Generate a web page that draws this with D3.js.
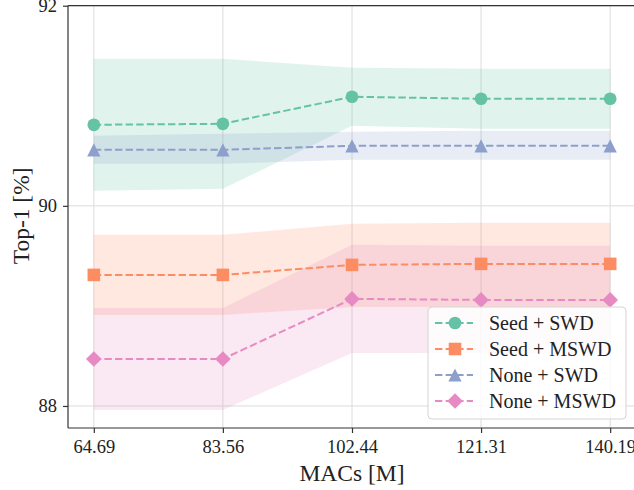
<!DOCTYPE html>
<html>
<head>
<meta charset="utf-8">
<title>Top-1 vs MACs</title>
<style>
  body { margin: 0; background: #fff; }
  svg { display: block; overflow: hidden; }
  text { font-family: 'Liberation Serif', 'DejaVu Serif', serif; fill: #222; }
</style>
<script src="https://d3js.org/d3.v7.min.js"></script>
</head>
<body>
<div id="chart"></div>
<script>
// ******* Data *******
const macs = [64.69, 83.56, 102.44, 121.31, 140.19];
const xTickLabels = ["64.69", "83.56", "102.44", "121.31", "140.19"];
const yTicks = [88, 90, 92];

const seriesNames = ["Seed + SWD", "Seed + MSWD", "None + SWD", "None + MSWD"];

const seedSwd      = [90.81, 90.82, 91.09, 91.07, 91.07];
const seedSwdLow   = [90.15, 90.17, 90.80, 90.77, 90.77];
const seedSwdHigh  = [91.47, 91.47, 91.38, 91.37, 91.37];

const seedMswd     = [89.31, 89.31, 89.41, 89.42, 89.42];
const seedMswdLow  = [88.91, 88.91, 88.99, 88.99, 88.99];
const seedMswdHigh = [89.71, 89.71, 89.82, 89.83, 89.83];

const noneSwd      = [90.56, 90.56, 90.60, 90.60, 90.60];
const noneSwdLow   = [90.42, 90.42, 90.46, 90.46, 90.46];
const noneSwdHigh  = [90.70, 90.72, 90.74, 90.75, 90.75];

const noneMswd     = [88.47, 88.47, 89.07, 89.06, 89.06];
const noneMswdLow  = [87.96, 87.96, 88.53, 88.53, 88.53];
const noneMswdHigh = [88.98, 88.98, 89.61, 89.60, 89.60];

// Set2 colours
const colors = ["#66c2a5", "#fc8d62", "#8da0cb", "#e78ac3"];

// matplotlib-like markers: o, s, ^, D
const mplTriangle = {
  draw(ctx, size) {
    const r = Math.sqrt(size) / 2;
    ctx.moveTo(0, -r);
    ctx.lineTo(r, r);
    ctx.lineTo(-r, r);
    ctx.closePath();
  }
};
const markerPaths = [
  d3.symbol().type(d3.symbolCircle).size(127)(),
  d3.symbol().type(d3.symbolSquare).size(158)(),
  d3.symbol().type(mplTriangle).size(175)(),
  d3.symbol().type(d3.symbolSquare).size(122)(),
];
const markerRotate = [0, 0, 0, 45];

const series = [
  { name: seriesNames[0], mean: seedSwd,  low: seedSwdLow,  high: seedSwdHigh },
  { name: seriesNames[1], mean: seedMswd, low: seedMswdLow, high: seedMswdHigh },
  { name: seriesNames[2], mean: noneSwd,  low: noneSwdLow,  high: noneSwdHigh },
  { name: seriesNames[3], mean: noneMswd, low: noneMswdLow, high: noneMswdHigh },
];

// ******* Layout *******
const width = 634, height = 490;
const margin = { top: 5.7, left: 68, bottom: 62, right: -2 };
const plotW = width - margin.left - margin.right;
const plotH = height - margin.top - margin.bottom;

const xPad = (macs[macs.length - 1] - macs[0]) * 0.05;
const x = d3.scaleLinear()
    .domain([macs[0] - xPad, macs[macs.length - 1] + xPad])
    .range([0, plotW]);
const y = d3.scaleLinear()
    .domain([87.78, 92])
    .range([plotH, 0]);

const svg = d3.select("#chart").append("svg")
    .attr("width", width)
    .attr("height", height);

const g = svg.append("g")
    .attr("transform", `translate(${margin.left},${margin.top})`);

// ******* Grid *******
g.append("g").selectAll("line")
  .data(macs).enter().append("line")
    .attr("x1", d => x(d)).attr("x2", d => x(d))
    .attr("y1", 0).attr("y2", plotH)
    .attr("stroke", "#dcdcdc").attr("stroke-width", 1);
g.append("g").selectAll("line")
  .data(yTicks).enter().append("line")
    .attr("x1", 0).attr("x2", plotW)
    .attr("y1", d => y(d)).attr("y2", d => y(d))
    .attr("stroke", "#dcdcdc").attr("stroke-width", 1);

// ******* Bands *******
const area = d3.area()
    .x((d, i) => x(macs[i]))
    .y0(d => y(d[0]))
    .y1(d => y(d[1]));

series.forEach((s, k) => {
  g.append("path")
    .attr("d", area(s.low.map((v, i) => [v, s.high[i]])))
    .attr("fill", colors[k])
    .attr("fill-opacity", 0.2);
});

// ******* Lines + markers *******
const line = d3.line()
    .x((d, i) => x(macs[i]))
    .y(d => y(d));

series.forEach((s, k) => {
  g.append("path")
    .attr("d", line(s.mean))
    .attr("fill", "none")
    .attr("stroke", colors[k])
    .attr("stroke-width", 2)
    .attr("stroke-dasharray", "7.4,3.2");

  g.append("g").selectAll("path")
    .data(s.mean).enter().append("path")
      .attr("d", markerPaths[k])
      .attr("fill", colors[k])
      .attr("transform", (d, i) => `translate(${x(macs[i])},${y(d)}) rotate(${markerRotate[k]})`);
});

// ******* Axes *******
const axisColor = "#333";
g.append("line").attr("x1", 0).attr("x2", 0).attr("y1", 0).attr("y2", plotH)
  .attr("stroke", axisColor).attr("stroke-width", 1.2);
g.append("line").attr("x1", 0).attr("x2", plotW).attr("y1", plotH).attr("y2", plotH)
  .attr("stroke", axisColor).attr("stroke-width", 1.2);
g.append("line").attr("x1", 0).attr("x2", plotW).attr("y1", 0).attr("y2", 0)
  .attr("stroke", axisColor).attr("stroke-width", 1.2);

const xAxis = g.append("g")
    .attr("transform", `translate(0,${plotH})`)
    .call(d3.axisBottom(x).tickValues(macs).tickSize(5).tickPadding(7)
      .tickFormat((d, i) => xTickLabels[i]));
const yAxis = g.append("g")
    .call(d3.axisLeft(y).tickValues(yTicks).tickSize(5).tickPadding(6)
      .tickFormat(d3.format("d")));

[xAxis, yAxis].forEach(a => {
  a.select(".domain").remove();
  a.selectAll(".tick line").attr("stroke", axisColor).attr("stroke-width", 1.2);
  a.selectAll(".tick text")
    .style("font-family", "'Liberation Serif', serif")
    .style("font-size", "18.5px")
    .attr("fill", "#222");
});

svg.append("text")
    .attr("x", margin.left + plotW / 2)
    .attr("y", 481)
    .attr("text-anchor", "middle")
    .style("font-size", "23.5px")
    .text("MACs [M]");

svg.append("text")
    .attr("transform", `translate(29,${margin.top + y(89.9)}) rotate(-90)`)
    .attr("text-anchor", "middle")
    .style("font-size", "23.5px")
    .text("Top-1 [%]");

// ******* Legend *******
const legend = svg.append("g").attr("transform", "translate(428,307)");
legend.append("rect")
    .attr("width", 198).attr("height", 112)
    .attr("rx", 4).attr("ry", 4)
    .attr("fill", "#fff").attr("fill-opacity", 0.8)
    .attr("stroke", "#d4d4d4").attr("stroke-width", 1);

series.forEach((s, k) => {
  const row = legend.append("g").attr("transform", `translate(0,${16 + k * 26})`);
  row.append("line")
    .attr("x1", 7).attr("x2", 45).attr("y1", 0).attr("y2", 0)
    .attr("stroke", colors[k]).attr("stroke-width", 2)
    .attr("stroke-dasharray", "7.4,3.2");
  row.append("path")
    .attr("d", markerPaths[k])
    .attr("fill", colors[k])
    .attr("transform", `translate(27,0) rotate(${markerRotate[k]})`);
  row.append("text")
    .attr("x", 61).attr("y", 6.5)
    .style("font-size", "20px")
    .text(s.name);
});
</script>
</body>
</html>
